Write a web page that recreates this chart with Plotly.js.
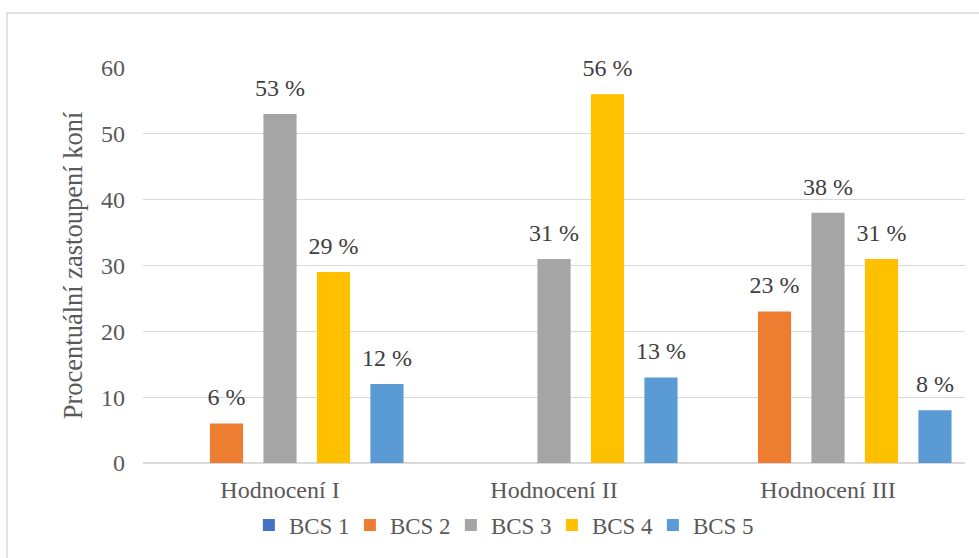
<!DOCTYPE html>
<html>
<head>
<meta charset="utf-8">
<script src="https://cdn.plot.ly/plotly-3.0.1.min.js"></script>
<style>html,body{margin:0;padding:0;background:#fff;}#chart{width:979px;height:558px;}</style>
</head>
<body>
<div id="chart"></div>
<script>
const categories = ["Hodnocení I", "Hodnocení II", "Hodnocení III"];
const seriesNames = ["BCS 1", "BCS 2", "BCS 3", "BCS 4", "BCS 5"];
const bcs1 = [0, 0, 0];
const bcs2 = [6, 0, 23];
const bcs3 = [53, 31, 38];
const bcs4 = [29, 56, 31];
const bcs5 = [12, 13, 8];
const yTicks = [0, 10, 20, 30, 40, 50, 60];
const colors = ["#4472C4", "#ED7D31", "#A5A5A5", "#FFC000", "#5B9BD5"];

const FONT = "Liberation Serif, Times New Roman, serif";
const allSeries = [bcs1, bcs2, bcs3, bcs4, bcs5];
const barTraces = allSeries.map((vals, i) => ({
  type: "bar",
  name: seriesNames[i],
  x: categories,
  y: vals,
  offsetgroup: "g" + i,
  marker: {color: colors[i]},
  hoverinfo: "none"
}));
const labelTraces = allSeries.map((vals, i) => ({
  type: "scatter",
  mode: "markers+text",
  orientation: "v",
  x: categories,
  y: vals,
  offsetgroup: "g" + i,
  text: vals.map(v => v > 0 ? v + " %" : ""),
  textposition: "top center",
  textfont: {family: FONT, size: 24, color: "#404040"},
  marker: {size: 18, opacity: 0, color: colors[i]},
  cliponaxis: false,
  showlegend: false,
  hoverinfo: "none"
}));

const layout = {
  width: 979, height: 558,
  margin: {l: 143, r: 14, t: 68, b: 95},
  paper_bgcolor: "#ffffff", plot_bgcolor: "#ffffff",
  font: {family: FONT, size: 24, color: "#595959"},
  barmode: "group",
  bargap: 0.024,
  bargroupgap: 0.38,
  scattermode: "group",
  scattergap: 0.024,
  showlegend: true,
  legend: {
    orientation: "h", x: 0.436, xanchor: "center", y: -0.157, yanchor: "middle",
    entrywidth: 56, entrywidthmode: "pixels",
    font: {family: FONT, size: 23, color: "#595959"}, bgcolor: "rgba(0,0,0,0)", traceorder: "normal"
  },
  xaxis: {
    type: "category", showgrid: false, zeroline: false, showline: false, ticks: "",
    ticklabelstandoff: 10,
    tickfont: {family: FONT, size: 24, color: "#595959"}, fixedrange: true
  },
  yaxis: {
    range: [0, 60], tickvals: yTicks, ticktext: yTicks.map(String),
    showgrid: true, gridcolor: "#d9d9d9", gridwidth: 1,
    zeroline: true, zerolinecolor: "#d9d9d9", zerolinewidth: 1.5,
    showline: false, ticks: "", ticklabelstandoff: 17,
    tickfont: {family: FONT, size: 24, color: "#595959"},
    title: {text: "Procentuální zastoupení koní", font: {family: FONT, size: 26.5, color: "#595959"}, standoff: 10},
    fixedrange: true
  },
  shapes: [{
    type: "rect", xref: "paper", yref: "paper",
    x0: -0.1655, x1: 1.03, y0: -0.3, y1: 1.139,
    line: {color: "#d9d9d9", width: 1.5}, fillcolor: "rgba(0,0,0,0)", layer: "below"
  }]
};

Plotly.newPlot("chart", barTraces.concat(labelTraces), layout, {displayModeBar: false, staticPlot: true});
</script>
</body>
</html>
